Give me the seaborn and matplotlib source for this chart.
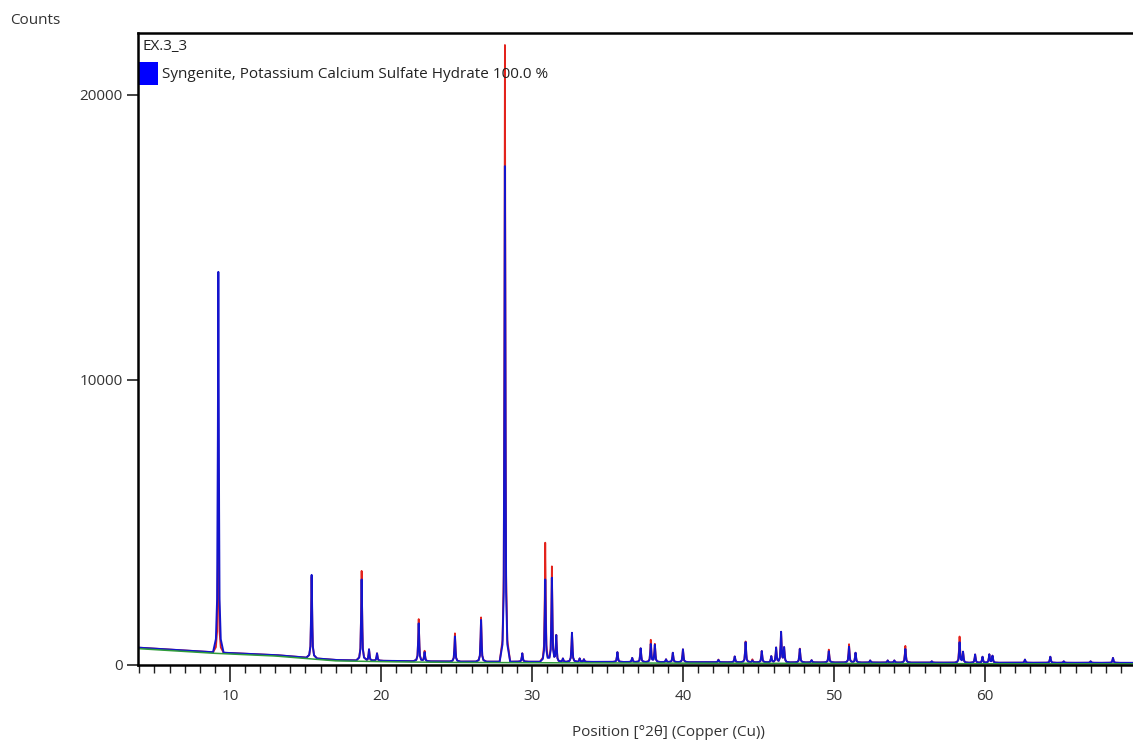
import numpy as np
import pandas as pd
import matplotlib
matplotlib.use("Agg")
import matplotlib.pyplot as plt
from matplotlib.patches import Rectangle
from matplotlib.ticker import MultipleLocator, FixedLocator
import seaborn as sns

# ---------------- data ----------------
# baseline of the observed / calculated traces: 2theta, counts
base_x = [3.91, 9.0, 13.0, 17.0, 21.0, 25.0, 30.0, 40.0, 50.0, 60.0, 70.3]
base_y = [610, 445, 350, 175, 140, 120, 115, 100, 90, 80, 75]
# fitted background (green) line, a touch below the baseline
bg_x = [3.91, 9.0, 13.0, 17.0, 21.0, 25.0, 30.0, 40.0, 50.0, 60.0, 70.3]
bg_y = [575, 410, 315, 145, 110, 90, 80, 65, 55, 45, 40]

# peaks: position (deg 2theta), observed height, calculated height (counts)
peak_pos = [9.23, 15.41, 18.72, 19.21, 19.74, 22.50, 22.89, 24.90, 26.63, 28.21,
            29.36, 30.88, 31.32, 31.61, 32.05, 32.65, 33.16, 33.44, 35.66, 36.64,
            37.20, 37.87, 38.14, 38.88, 39.33, 40.00, 42.35, 43.43, 44.15, 44.60,
            45.22, 45.85, 46.17, 46.50, 46.70, 47.74, 48.52, 49.66, 51.00, 51.43,
            52.40, 53.56, 54.00, 54.73, 56.48, 58.32, 58.55, 59.35, 59.84, 60.29,
            60.50, 62.65, 64.33, 65.22, 67.00, 68.48]
peak_obs = [5700, 3100, 3300, 550, 410, 1610, 500, 1110, 1670, 21750,
            410, 4290, 3450, 1020, 230, 1130, 230, 200, 450, 250,
            585, 875, 730, 200, 430, 550, 190, 300, 825, 200,
            490, 310, 610, 1150, 600, 575, 170, 540, 730, 430,
            160, 160, 160, 670, 130, 990, 450, 370, 290, 370,
            320, 190, 290, 130, 130, 250]
peak_calc = [13790, 3160, 3000, 550, 410, 1460, 450, 1000, 1580, 17500,
             410, 3000, 3050, 1020, 230, 1130, 230, 200, 450, 250,
             585, 730, 700, 200, 430, 550, 180, 300, 800, 160,
             490, 310, 610, 1150, 600, 560, 170, 480, 640, 430,
             160, 160, 160, 560, 130, 790, 450, 370, 290, 370,
             320, 190, 290, 130, 130, 250]

x_ticks = [10, 20, 30, 40, 50, 60]
y_ticks = [0, 10000, 20000]
y_tick_labels = ["0", "10000", "20000"]

sample_name = "EX.3_3"
phase_label = "Syngenite, Potassium Calcium Sulfate Hydrate 100.0 %"
x_label = "Position [°2θ] (Copper (Cu))"
y_label = "Counts"

# ---------------- build the profiles from the peak list ----------------
grid = np.union1d(np.arange(base_x[0], base_x[-1], 0.01), np.array(peak_pos))
base = np.interp(grid, base_x, base_y)
tmpl_off = np.array([0.0, 0.035, 0.08, 0.16, 0.35])
tmpl_frac = np.array([1.0, 0.5, 0.14, 0.035, 0.0])


def profile(heights):
    y = base.copy()
    for p, h in zip(peak_pos, heights):
        amp = h - np.interp(p, base_x, base_y)
        y += amp * np.interp(np.abs(grid - p), tmpl_off, tmpl_frac, right=0.0)
    return y


df = pd.DataFrame({"x": grid, "obs": profile(peak_obs), "calc": profile(peak_calc)})
df_bg = pd.DataFrame({"x": bg_x, "bg": bg_y})

# ---------------- figure ----------------
sns.set_style("white")
plt.rcParams["font.family"] = ["Open Sans", "DejaVu Sans"]

W, H = 1133, 742
fig = plt.figure(figsize=(W / 100, H / 100), dpi=100)
left, right, top, bottom = 138, 1140, 33.3, 665
ax = fig.add_axes([left / W, 1 - bottom / H, (right - left) / W, (bottom - top) / H])

sns.lineplot(data=df, x="x", y="obs", ax=ax, color="#e3231c", lw=1.3, estimator=None, sort=False)
sns.lineplot(data=df, x="x", y="calc", ax=ax, color="#1414cc", lw=1.4, estimator=None, sort=False)
sns.lineplot(data=df_bg, x="x", y="bg", ax=ax, color="#2f9c3a", lw=1.1, estimator=None, sort=False)

ax.set_xlim(3.91, 70.27)
ax.set_ylim(0, 22160)

ax.xaxis.set_major_locator(FixedLocator(x_ticks))
ax.xaxis.set_minor_locator(MultipleLocator(1))
ax.yaxis.set_major_locator(FixedLocator(y_ticks))
ax.set_yticklabels(y_tick_labels)
ax.tick_params(axis="x", which="major", direction="out", length=12, width=1.2, pad=5,
               labelsize=11, colors="#222222", bottom=True)
ax.tick_params(axis="x", which="minor", direction="out", length=5.5, width=1.0, bottom=True,
               colors="#222222")
ax.tick_params(axis="y", which="major", direction="out", length=8, width=1.2, pad=3,
               labelsize=11, colors="#222222", left=True)
for lab in ax.get_xticklabels() + ax.get_yticklabels():
    lab.set_color("#333333")

for s in ["left", "top", "bottom", "right"]:
    ax.spines[s].set_visible(True)
    ax.spines[s].set_color("black")
    ax.spines[s].set_linewidth(1.8)

ax.set_xlabel("")
ax.set_ylabel("")

fig.text(10 / W, 1 - 20 / H, y_label, ha="left", va="center", fontsize=11, color="#333333")
fig.text(668 / W, 1 - 733 / H, x_label, ha="center", va="center", fontsize=11, color="#333333")

ax.text(0.004, (bottom - 47) / (bottom - top), sample_name, transform=ax.transAxes, ha="left",
        va="center", fontsize=11, color="#222222")
ax.add_patch(Rectangle((0.0, (bottom - 85) / (bottom - top)), 20 / (right - left), 23 / (bottom - top),
                       transform=ax.transAxes, facecolor="#0000ff", edgecolor="none", clip_on=False))
ax.text(24 / (right - left), (bottom - 74) / (bottom - top), phase_label, transform=ax.transAxes,
        ha="left", va="center", fontsize=11, color="#222222")

fig.savefig("out.png", dpi=100, facecolor="white")
